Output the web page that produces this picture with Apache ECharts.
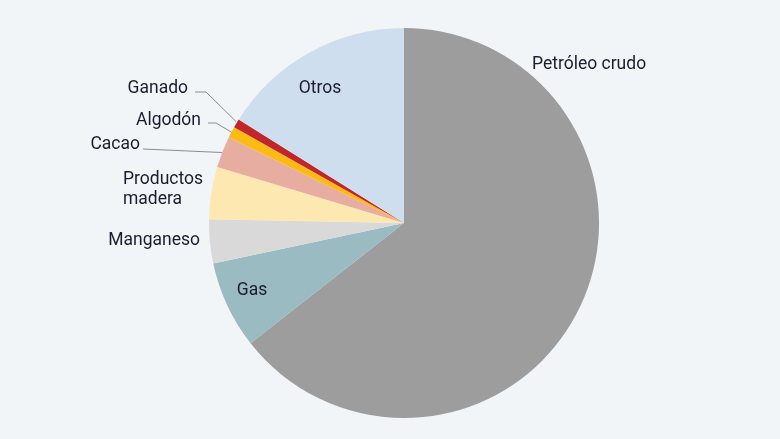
<!DOCTYPE html>
<html>
<head>
<meta charset="utf-8">
<script src="https://cdn.jsdelivr.net/npm/echarts@6/dist/echarts.min.js"></script>
<style>
html,body{margin:0;padding:0;background:#f1f5f8;}
#c{width:780px;height:439px;}
</style>
</head>
<body>
<div id="c"></div>
<script>
const categories = ['Petróleo crudo', 'Gas', 'Manganeso', 'Productos\nmadera', 'Cacao', 'Algodón', 'Ganado', 'Otros'];
const values = [64.4, 7.25, 3.64, 4.33, 2.6, 0.94, 0.72, 16.1];
const colors = ['#9d9d9d', '#9bbbc2', '#d9d9d9', '#fde8b1', '#e8ada1', '#fbbb14', '#c1262d', '#cfdeee'];

// label placement (layout only)
const labelPos = [
  {x: 532, y: 65, align: 'left'},
  {x: 252, y: 291, align: 'center'},
  {x: 200, y: 241, align: 'right'},
  {x: 123, y: 190, align: 'left'},
  {x: 140, y: 145, align: 'right', line: [[143, 149], [222, 152.5]]},
  {x: 201, y: 121, align: 'right', line: [[208, 123], [216, 123], [232, 132.5]]},
  {x: 188, y: 89, align: 'right', line: [[195, 92], [206, 92], [236, 121.5]]},
  {x: 320, y: 89, align: 'center'}
];

const chart = echarts.init(document.getElementById('c'));
chart.setOption({
  backgroundColor: '#f1f5f8',
  animation: false,
  series: [{
    type: 'pie',
    center: [404, 223],
    radius: 195,
    startAngle: 90,
    clockwise: true,
    avoidLabelOverlap: false,
    label: {
      show: true,
      fontFamily: 'Roboto',
      fontSize: 17.5,
      color: '#1b1d2e',
      lineHeight: 20
    },
    labelLine: {show: false, lineStyle: {color: '#8c8c8c', width: 1}},
    data: categories.map((c, i) => ({
      name: c,
      value: values[i],
      itemStyle: {color: colors[i]},
      labelLine: {show: !!labelPos[i].line}
    })),
    labelLayout: function (p) {
      const lp = labelPos[p.dataIndex];
      const r = {x: lp.x, y: lp.y, align: lp.align, verticalAlign: 'middle'};
      if (lp.line) r.labelLinePoints = lp.line;
      return r;
    }
  }]
});
</script>
</body>
</html>
